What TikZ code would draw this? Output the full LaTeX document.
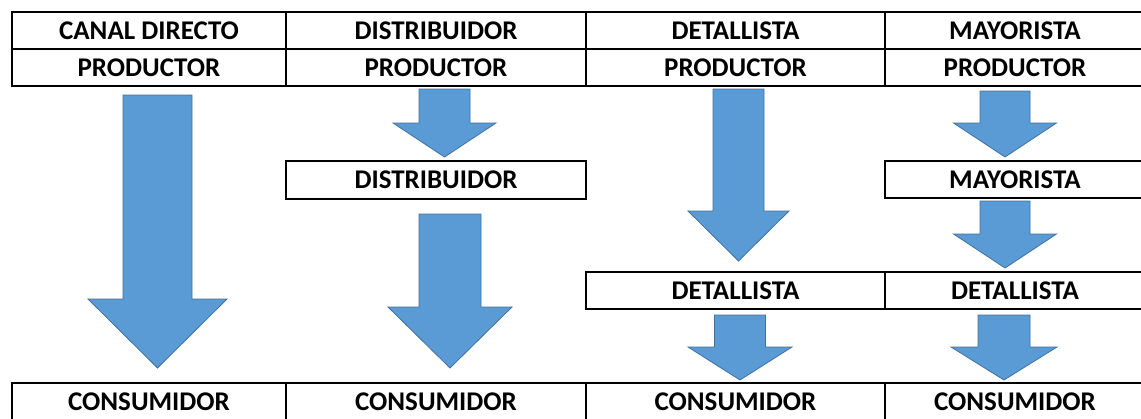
\documentclass[tikz,border=0pt]{standalone}
\usepackage{fontspec}
\setmainfont{Carlito}
\definecolor{arrowblue}{HTML}{5B9BD5}
\definecolor{arrowedge}{HTML}{41719C}
\tikzset{
  cell/.style={draw=black, line width=2.2pt, inner sep=0pt, minimum height=37pt,
    font=\bfseries\fontsize{27}{30}\selectfont},
  blockarrow/.style={fill=arrowblue, draw=arrowedge, line width=0.8pt, line join=miter},
}
% cx, top, shaft half width, head y, head half width, tip y
\newcommand{\myarrow}[6]{%
  \draw[blockarrow] ({#1-#3},#2) -- ({#1+#3},#2) -- ({#1+#3},#4) -- ({#1+#5},#4)
    -- (#1,#6) -- ({#1-#5},#4) -- ({#1-#3},#4) -- cycle;}
\begin{document}
\begin{tikzpicture}[x=1pt,y=-1pt]
\useasboundingbox (0,0) rectangle (1141,418);
% top table
\node[cell, minimum width=274pt] (h1) at (149,30.5) {CANAL DIRECTO};
\node[cell, minimum width=300pt] (h2) at (436,30.5) {DISTRIBUIDOR};
\node[cell, minimum width=299pt] (h3) at (735.5,30.5) {DETALLISTA};
\node[cell, minimum width=260pt] (h4) at (1015,30.5) {MAYORISTA};
\node[cell, minimum width=274pt] (p1) at (149,67.5) {PRODUCTOR};
\node[cell, minimum width=300pt] (p2) at (436,67.5) {PRODUCTOR};
\node[cell, minimum width=299pt] (p3) at (735.5,67.5) {PRODUCTOR};
\node[cell, minimum width=260pt] (p4) at (1015,67.5) {PRODUCTOR};
% intermediate boxes
\node[cell, minimum width=300pt, minimum height=38pt] (d2) at (436,180) {DISTRIBUIDOR};
\node[cell, minimum width=260pt] (m4) at (1015,179.5) {MAYORISTA};
\node[cell, minimum width=299pt] (t3) at (735.5,290.5) {DETALLISTA};
\node[cell, minimum width=260pt] (t4) at (1015,290.5) {DETALLISTA};
% bottom table
\node[cell, minimum width=274pt] (c1) at (149,401.5) {CONSUMIDOR};
\node[cell, minimum width=300pt] (c2) at (436,401.5) {CONSUMIDOR};
\node[cell, minimum width=299pt] (c3) at (735.5,401.5) {CONSUMIDOR};
\node[cell, minimum width=260pt] (c4) at (1015,401.5) {CONSUMIDOR};
% arrows
\myarrow{157.5}{95}{34.5}{299}{69.5}{368}
\myarrow{444.5}{89}{25.5}{123}{51.5}{157}
\myarrow{450}{214}{31}{307}{62}{368}
\myarrow{738.5}{89}{25.5}{211}{50.5}{261}
\myarrow{740}{315}{25.5}{347}{52}{380}
\myarrow{1005}{91}{25}{123}{51.5}{157}
\myarrow{1005}{201}{25}{234}{51.5}{268}
\myarrow{1004}{315}{26}{347}{53}{380}
\end{tikzpicture}
\end{document}
